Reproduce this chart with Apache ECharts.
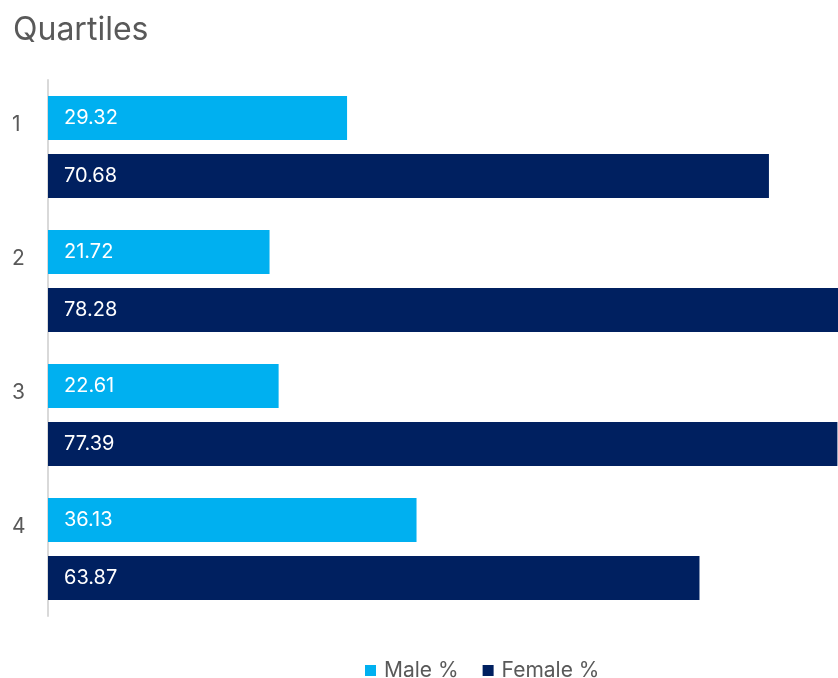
<!DOCTYPE html>
<html><head><meta charset="utf-8">
<script src="https://cdn.jsdelivr.net/npm/echarts@6/dist/echarts.min.js"></script>
<style>html,body{margin:0;padding:0;background:#fff}#c{width:838px;height:678px}</style>
</head><body><div id="c"></div>
<script>
const categories = ['1', '2', '3', '4'];
const maleValues = [29.32, 21.72, 22.61, 36.13];
const femaleValues = [70.68, 78.28, 77.39, 63.87];
const seriesNames = ['Male %', 'Female %'];

const FONT = 'Inter, sans-serif';
const chart = echarts.init(document.getElementById('c'), null, {renderer: 'canvas'});
const labelCfg = {show: true, position: 'insideLeft', distance: 16, color: '#ffffff', fontSize: 20, fontFamily: FONT, formatter: p => p.value.toFixed(2)};
chart.setOption({
  animation: false,
  title: {text: 'Quartiles', left: 8, top: 9, textStyle: {color: '#595959', fontSize: 32, fontWeight: 'normal', fontFamily: FONT}},
  legend: {data: seriesNames, top: 655, left: 360, itemWidth: 11, itemHeight: 11, itemGap: 24, icon: 'rect',
    textStyle: {color: '#595959', fontSize: 21, fontFamily: FONT, padding: [0, 0, 0, 3]}},
  grid: {left: 48, top: 80, right: 0, height: 536, containLabel: false},
  xAxis: {type: 'value', min: 0, max: 77.45, show: false},
  yAxis: {type: 'category', data: categories, inverse: true,
    axisLine: {show: true, lineStyle: {color: '#d9d9d9', width: 2}},
    axisTick: {show: false},
    axisLabel: {color: '#595959', fontSize: 21, margin: 36, align: 'left',
      formatter: v => '{a|' + v + '}',
      rich: {a: {fontSize: 21, color: '#595959', fontFamily: FONT, padding: [0, 0, 44, 0]}},
      fontFamily: FONT}},
  series: [
    {name: seriesNames[0], type: 'bar', data: maleValues, barWidth: 44, barGap: '32%', itemStyle: {color: '#00B0F0'}, label: labelCfg},
    {name: seriesNames[1], type: 'bar', data: femaleValues, barWidth: 44, barGap: '32%', itemStyle: {color: '#002060'}, label: labelCfg}
  ]
});
</script></body></html>
